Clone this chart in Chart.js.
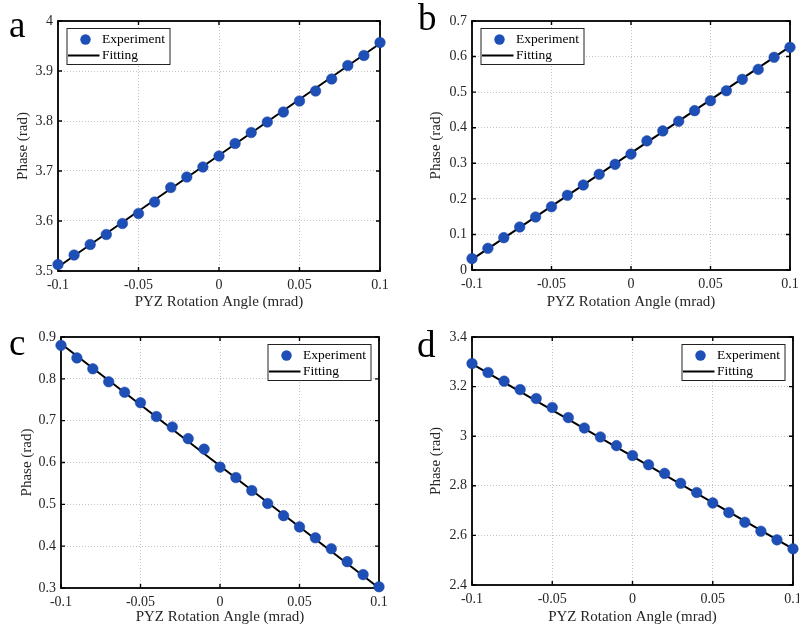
<!DOCTYPE html>
<html lang="en">
<head>
<meta charset="UTF-8">
<title>PYZ rotation angle vs phase</title>
<script src="https://cdn.jsdelivr.net/npm/chart.js"></script>
<style>
    body {
        margin: 0;
        width: 799px;
        height: 627px;
        overflow: hidden;
        background: #fff;
        position: relative;
        font-family: 'Liberation Serif', 'Times New Roman', serif;
    }
    .panel { position: absolute; width: 400px; }
    .tag { position: absolute; font-size: 37px; line-height: 37px; color: #000; }
</style>
</head>
<body>
<div class="panel" style="left:0;top:0;height:313px"><canvas id="chartA"></canvas></div>
<div class="panel" style="left:400px;top:0;height:313px"><canvas id="chartB"></canvas></div>
<div class="panel" style="left:0;top:313px;height:314px"><canvas id="chartC"></canvas></div>
<div class="panel" style="left:400px;top:313px;height:314px"><canvas id="chartD"></canvas></div>
<div class="tag" style="left:9px;top:6px">a</div>
<div class="tag" style="left:418px;top:-1px">b</div>
<div class="tag" style="left:9px;top:324px">c</div>
<div class="tag" style="left:417px;top:326px">d</div>

<script>
    // values
    const angles = [-0.1, -0.09, -0.08, -0.07, -0.06, -0.05, -0.04, -0.03, -0.02, -0.01, 0,
                    0.01, 0.02, 0.03, 0.04, 0.05, 0.06, 0.07, 0.08, 0.09, 0.1];
    const phaseA = [3.513, 3.532, 3.553, 3.573, 3.595, 3.615, 3.638, 3.667, 3.688, 3.708, 3.730,
                    3.755, 3.777, 3.798, 3.818, 3.840, 3.860, 3.884, 3.911, 3.931, 3.957];
    const phaseB = [0.032, 0.061, 0.091, 0.121, 0.149, 0.178, 0.210, 0.239, 0.269, 0.297, 0.326,
                    0.363, 0.391, 0.418, 0.448, 0.476, 0.504, 0.536, 0.564, 0.598, 0.626];
    const phaseC = [0.880, 0.850, 0.824, 0.793, 0.768, 0.743, 0.710, 0.685, 0.657, 0.632, 0.589,
                    0.564, 0.533, 0.502, 0.473, 0.446, 0.420, 0.394, 0.363, 0.332, 0.303];
    const phaseD = [3.293, 3.257, 3.222, 3.188, 3.152, 3.116, 3.075, 3.033, 2.997, 2.962, 2.922,
                    2.885, 2.850, 2.810, 2.773, 2.731, 2.692, 2.653, 2.617, 2.582, 2.546];

    // fitted lines, end points
    const fitX = [-0.1, 0.1];
    const fitA = [3.508, 3.955];
    const fitB = [0.030, 0.628];
    const fitC = [0.884, 0.300];
    const fitD = [3.292, 2.546];

    const xTicks = [-0.1, -0.05, 0, 0.05, 0.1];
    const yTicksA = [3.5, 3.6, 3.7, 3.8, 3.9, 4];
    const yTicksB = [0, 0.1, 0.2, 0.3, 0.4, 0.5, 0.6, 0.7];
    const yTicksC = [0.3, 0.4, 0.5, 0.6, 0.7, 0.8, 0.9];
    const yTicksD = [2.4, 2.6, 2.8, 3, 3.2, 3.4];

    const FONT = "'Liberation Serif', 'Times New Roman', serif";
    const DOT = '#1d4fb6';
    const TXT = '#262626';

    // box + inward ticks on all four sides, matlab style
    const framePlugin = {
        id: 'frame',
        beforeDatasetsDraw(chart) {
            const {ctx, chartArea: a, scales: {x, y}} = chart;
            ctx.save();
            ctx.strokeStyle = '#000';
            ctx.lineWidth = 1.4;
            ctx.beginPath();
            x.ticks.forEach(t => {
                const px = x.getPixelForValue(t.value);
                ctx.moveTo(px, a.bottom); ctx.lineTo(px, a.bottom - 4);
                ctx.moveTo(px, a.top); ctx.lineTo(px, a.top + 4);
            });
            y.ticks.forEach(t => {
                const py = y.getPixelForValue(t.value);
                ctx.moveTo(a.left, py); ctx.lineTo(a.left + 4, py);
                ctx.moveTo(a.right, py); ctx.lineTo(a.right - 4, py);
            });
            ctx.stroke();
            ctx.lineWidth = 1.8;
            ctx.strokeRect(a.left, a.top, a.right - a.left, a.bottom - a.top);
            ctx.restore();
        }
    };

    const boxLegend = {
        id: 'boxLegend',
        afterDraw(chart, args, opts) {
            const {ctx, chartArea: a} = chart;
            const w = 103, h = 36;
            const bx = opts.side === 'right' ? a.right - 8 - w : a.left + 9;
            const by = a.top + 7.5;
            ctx.save();
            ctx.fillStyle = '#fff';
            ctx.fillRect(bx, by, w, h);
            ctx.strokeStyle = '#222';
            ctx.lineWidth = 1;
            ctx.strokeRect(bx, by, w, h);
            ctx.fillStyle = DOT;
            ctx.beginPath();
            ctx.arc(bx + 18.5, by + 11, 5.2, 0, Math.PI * 2);
            ctx.fill();
            ctx.strokeStyle = '#000';
            ctx.lineWidth = 2;
            ctx.beginPath();
            ctx.moveTo(bx + 1, by + 27);
            ctx.lineTo(bx + 32.5, by + 27);
            ctx.stroke();
            ctx.fillStyle = '#000';
            ctx.font = '13.5px ' + FONT;
            ctx.textBaseline = 'middle';
            ctx.fillText('Experiment', bx + 35, by + 11);
            ctx.fillText('Fitting', bx + 35, by + 27);
            ctx.restore();
        }
    };

    function makePanel(id, phase, fit, yTicks, box, legendSide, yTitlePad, xTitlePad) {
        const points = angles.map((a, i) => ({x: a, y: phase[i]}));
        const line = fitX.map((a, i) => ({x: a, y: fit[i]}));
        const ctx = document.getElementById(id).getContext('2d');
        new Chart(ctx, {
            type: 'scatter',
            data: {
                datasets: [{
                    label: 'Experiment',
                    data: points,
                    pointRadius: 5.3,
                    pointBackgroundColor: DOT,
                    pointBorderColor: '#1a47a6',
                    pointBorderWidth: 0.5,
                    clip: false
                }, {
                    label: 'Fitting',
                    type: 'line',
                    data: line,
                    borderColor: '#000',
                    borderWidth: 2,
                    pointRadius: 0,
                    clip: false
                }]
            },
            options: {
                responsive: true,
                maintainAspectRatio: false,
                animation: false,
                events: [],
                layout: {padding: {left: 0, top: box.top, right: box.right, bottom: 0}},
                plugins: {
                    legend: {display: false},
                    tooltip: {enabled: false},
                    boxLegend: {side: legendSide}
                },
                scales: {
                    x: {
                        type: 'linear',
                        min: -0.1,
                        max: 0.1,
                        afterBuildTicks: s => { s.ticks = xTicks.map(v => ({value: v})); },
                        afterFit: s => { s.height = box.bottom; s.paddingLeft = 0; s.paddingRight = 0; },
                        grid: {color: '#c4c4c4', lineWidth: 1, drawTicks: false},
                        border: {display: false, dash: [1, 2]},
                        ticks: {
                            padding: 6,
                            color: TXT,
                            font: {family: FONT, size: 14},
                            callback: v => String(v)
                        },
                        title: {
                            display: true,
                            text: 'PYZ Rotation Angle (mrad)',
                            color: TXT,
                            font: {family: FONT, size: 15},
                            padding: {top: 0, bottom: xTitlePad}
                        }
                    },
                    y: {
                        type: 'linear',
                        min: yTicks[0],
                        max: yTicks[yTicks.length - 1],
                        afterBuildTicks: s => { s.ticks = yTicks.map(v => ({value: v})); },
                        afterFit: s => { s.width = box.left; s.paddingTop = 0; s.paddingBottom = 0; },
                        grid: {color: '#c4c4c4', lineWidth: 1, drawTicks: false},
                        border: {display: false, dash: [1, 2]},
                        ticks: {
                            padding: 5,
                            color: TXT,
                            font: {family: FONT, size: 14},
                            callback: v => String(v)
                        },
                        title: {
                            display: true,
                            text: 'Phase (rad)',
                            color: TXT,
                            font: {family: FONT, size: 15},
                            padding: {top: yTitlePad, bottom: 0}
                        }
                    }
                }
            },
            plugins: [framePlugin, boxLegend]
        });
    }

    // box: y-axis width, top padding, right padding, x-axis height (px inside each canvas)
    makePanel('chartA', phaseA, fitA, yTicksA, {left: 58, top: 21, right: 20, bottom: 42}, 'left', 14, 2);
    makePanel('chartB', phaseB, fitB, yTicksB, {left: 72, top: 21, right: 10, bottom: 43}, 'left', 27, 2);
    makePanel('chartC', phaseC, fitC, yTicksC, {left: 61, top: 24, right: 21, bottom: 39}, 'right', 18, 1);
    makePanel('chartD', phaseD, fitD, yTicksD, {left: 72, top: 24, right: 7, bottom: 42}, 'right', 27, 1);
</script>
</body>
</html>
